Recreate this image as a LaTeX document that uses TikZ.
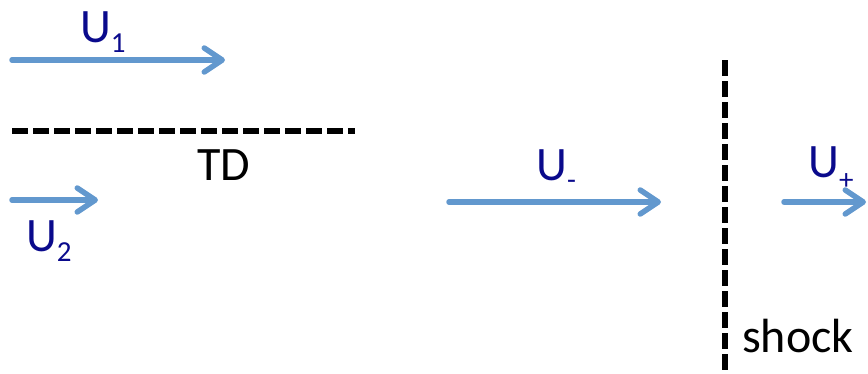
\documentclass[tikz,border=0pt]{standalone}
\usepackage{fontspec}
\setmainfont{Carlito}
\usetikzlibrary{arrows.meta}
\definecolor{arrowblue}{RGB}{98,152,206}
\definecolor{labelblue}{RGB}{10,10,140}
\newcommand{\sublab}[2]{U\raisebox{#1}{\fontsize{29}{30}\selectfont #2}}
\tikzset{
  flow/.style={draw=arrowblue, line width=5.5pt, line cap=round,
    -{Straight Barb[length=18pt,width=24pt,line cap=round,line join=round]}},
  boundary/.style={draw=black, line width=5.5pt, dash pattern=on 16pt off 5pt},
  lab/.style={text=labelblue, font=\fontsize{48}{50}\selectfont, inner sep=0pt, anchor=base west},
  plain/.style={text=black, font=\fontsize{48}{50}\selectfont, inner sep=0pt, anchor=base west}
}
\begin{document}
\begin{tikzpicture}[x=1pt,y=-1pt]
\useasboundingbox (0,0) rectangle (868,373);
% coordinates
\coordinate (a1s) at (12,60);
\coordinate (a1e) at (225,60);
\coordinate (a2s) at (12,200);
\coordinate (a2e) at (98,200);
\coordinate (ams) at (449,202);
\coordinate (ame) at (661,202);
\coordinate (aps) at (784,202);
\coordinate (ape) at (866,202);
\coordinate (tds) at (12,131);
\coordinate (tde) at (355,131);
\coordinate (shs) at (725,60);
\coordinate (she) at (725,375);
% arrows
\draw[flow] (a1s) -- (a1e);
\draw[flow] (a2s) -- (a2e);
\draw[flow] (ams) -- (ame);
\draw[flow] (aps) -- (ape);
% boundaries
\draw[boundary] (tds) -- (tde);
\draw[boundary] (shs) -- (she);
% labels
\node[lab] (u1) at (80,42) {\sublab{-10pt}{1}};
\node[lab] (u2) at (26,251) {\sublab{-10pt}{2}};
\node[lab] (um) at (536,180) {\sublab{-9pt}{-}};
\node[lab] (up) at (808,177) {\sublab{-12pt}{+}};
\node[plain] (td) at (197,180) {TD};
\node[plain] (sh) at (742,352) {shock};
\end{tikzpicture}
\end{document}
